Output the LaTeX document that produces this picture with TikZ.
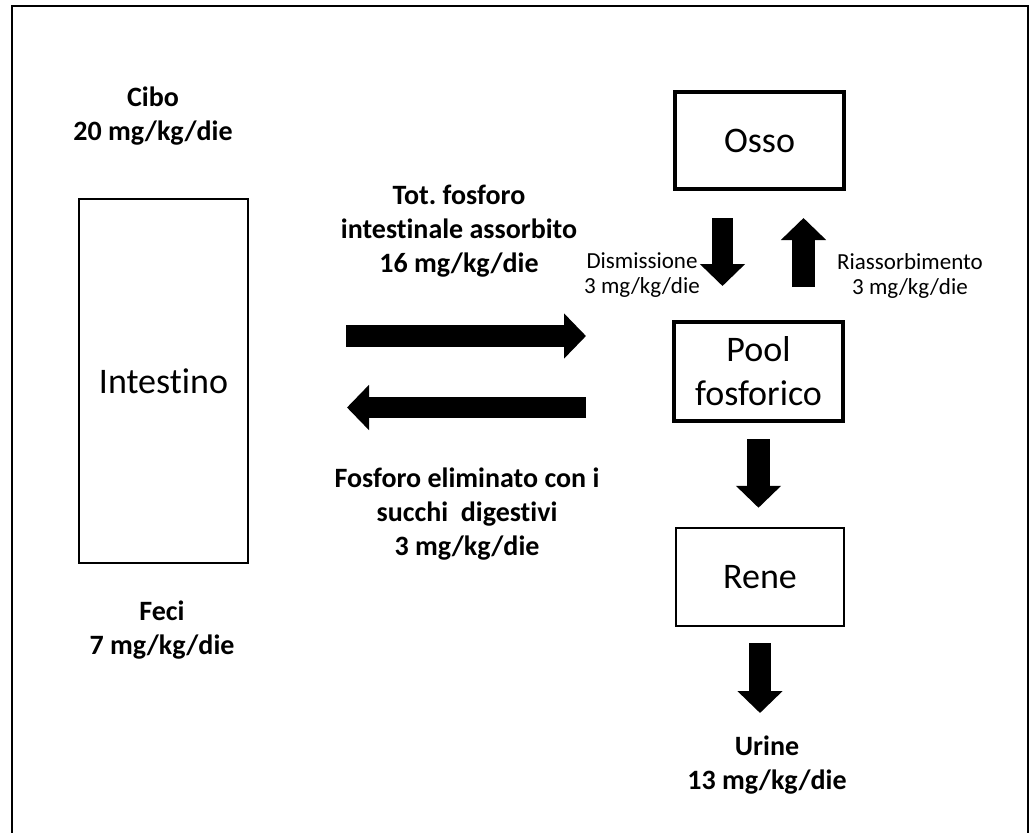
\documentclass[tikz,border=0pt]{standalone}
\usepackage{fontspec}
\setmainfont{Carlito}[Ligatures={NoCommon}]
\usepackage{tikz}
\usetikzlibrary{arrows.meta, positioning, calc}
\frenchspacing

\tikzset{
  organbox/.style={draw, inner sep=0pt, align=center,
        font=\fontsize{36}{44}\selectfont},
  flowlabel/.style={inner sep=0pt, align=center,
        font=\fontsize{28}{34}\selectfont\bfseries},
  smalllabel/.style={inner sep=0pt, align=center,
        font=\fontsize{23}{25}\selectfont},
  bigarrow/.style={line width=22pt,
        -{Triangle[length=22pt, width=44pt]}}
}

\begin{document}
\begin{tikzpicture}[x=1pt, y=-1pt]
  \useasboundingbox (0,0) rectangle (1034,833);
  \draw[line width=2pt] (12,850) -- (12,6) -- (1028,6) -- (1028,850);

  \node[organbox, line width=2pt, minimum width=169pt, minimum height=364pt]
        (intestino) at (163.5,381) {Intestino};
  \node[organbox, line width=4pt, minimum width=169pt, minimum height=97pt]
        (osso) at (759.5,140.5) {Osso};
  \node[organbox, line width=4pt, minimum width=169pt, minimum height=99pt]
        (pool) at (758.5,371.5) {Pool\\fosforico};
  \node[organbox, line width=2.5pt, minimum width=168pt, minimum height=98pt]
        (rene) at (760,577) {Rene};

  \node[flowlabel] (cibo) at (153,116) {Cibo\\20 mg/kg/die};
  \node[flowlabel] (feci) at (162,630) {Feci\\7 mg/kg/die};
  \node[flowlabel] (assorbito) at (459,231)
        {Tot. fosforo\\intestinale assorbito\\16 mg/kg/die};
  \node[flowlabel] (eliminato) at (467,514)
        {Fosforo eliminato con i\\succhi\ \ digestivi\\3 mg/kg/die};
  \node[flowlabel] (urine) at (767,765) {Urine\\13 mg/kg/die};
  \node[smalllabel] (dismissione) at (642,275.5) {Dismissione\\3 mg/kg/die};
  \node[smalllabel] (riassorbimento) at (910,275.5) {Riassorbimento\\3 mg/kg/die};

  \coordinate (absA) at (346,336);
  \coordinate (absB) at (586,336);
  \coordinate (secA) at (586,407.5);
  \coordinate (secB) at (347,407.5);

  \draw[bigarrow] (absA) -- (absB);
  \draw[bigarrow, line width=21pt] (secA) -- (secB);
  \draw[bigarrow, line width=21pt, shorten <=27pt, shorten >=34pt]
        ([xshift=-37pt]osso.south) -- ([xshift=-36pt]pool.north);
  \draw[bigarrow, line width=23pt, shorten <=33pt, shorten >=27pt]
        ([xshift=45pt]pool.north) -- ([xshift=44pt]osso.south);
  \draw[bigarrow, line width=23pt, shorten <=16pt, shorten >=19pt]
        (pool.south) -- (pool.south |- rene.north);
  \draw[bigarrow, line width=22pt, shorten <=16pt]
        (rene.south) -- (rene.south |- 0,713);
\end{tikzpicture}
\end{document}
